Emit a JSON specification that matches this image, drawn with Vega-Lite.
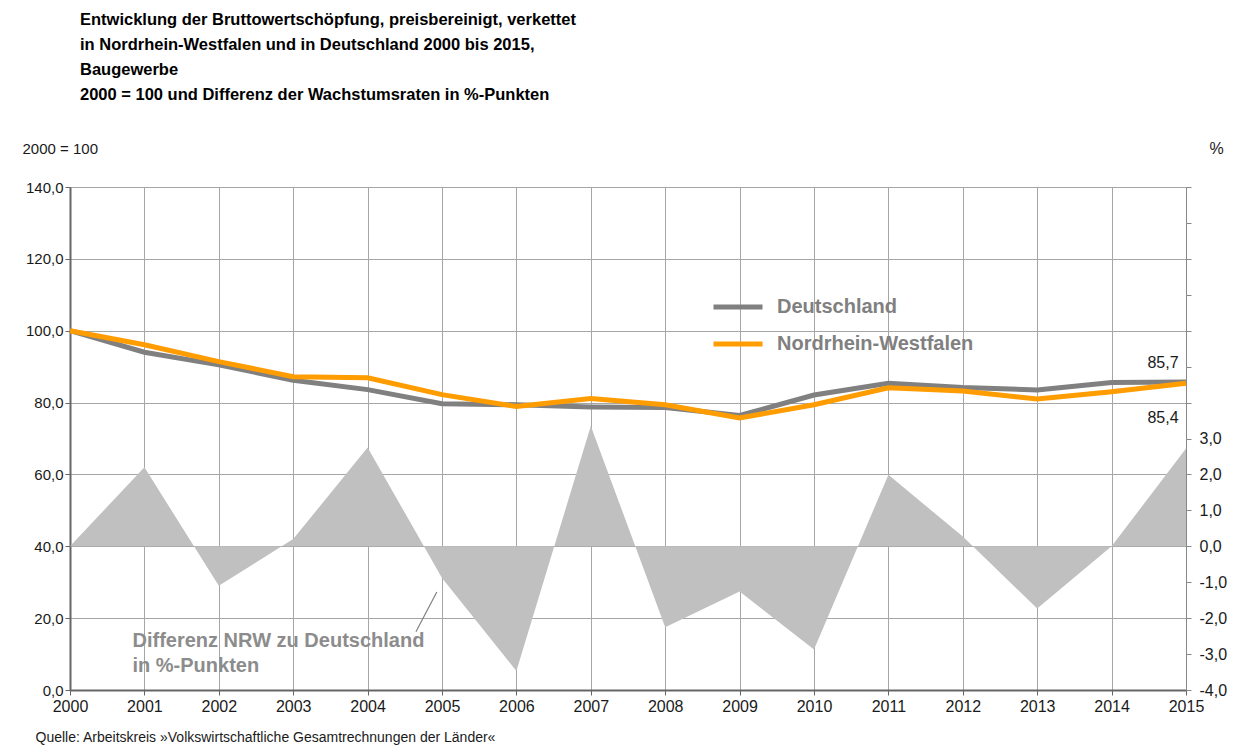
{
  "$schema": "https://vega.github.io/schema/vega-lite/v6.json",
  "width": 1116,
  "height": 503,
  "autosize": {"type": "none"},
  "padding": {"left": 70, "top": 187, "right": 51, "bottom": 57},
  "background": "white",
  "config": {"view": {"stroke": null}, "font": "Liberation Sans"},
  "title": {
    "text": ["Entwicklung der Bruttowertschöpfung,  preisbereinigt, verkettet", "in Nordrhein-Westfalen und in Deutschland 2000 bis 2015,", "Baugewerbe", "2000 = 100 und Differenz der Wachstumsraten  in %-Punkten"],
    "anchor": "start",
    "frame": "group",
    "dx": 10,
    "offset": 37,
    "font": "Liberation Sans",
    "fontSize": 16.5,
    "fontWeight": "bold",
    "lineHeight": 25,
    "color": "#000000"
  },
  "datasets": {
    "lines": [
      {"year": 2000, "region": "Deutschland", "value": 100.0},
      {"year": 2001, "region": "Deutschland", "value": 94.0},
      {"year": 2002, "region": "Deutschland", "value": 90.5},
      {"year": 2003, "region": "Deutschland", "value": 86.2},
      {"year": 2004, "region": "Deutschland", "value": 83.6},
      {"year": 2005, "region": "Deutschland", "value": 79.7},
      {"year": 2006, "region": "Deutschland", "value": 79.4},
      {"year": 2007, "region": "Deutschland", "value": 78.8},
      {"year": 2008, "region": "Deutschland", "value": 78.6},
      {"year": 2009, "region": "Deutschland", "value": 76.4},
      {"year": 2010, "region": "Deutschland", "value": 82.1},
      {"year": 2011, "region": "Deutschland", "value": 85.4},
      {"year": 2012, "region": "Deutschland", "value": 84.2},
      {"year": 2013, "region": "Deutschland", "value": 83.5},
      {"year": 2014, "region": "Deutschland", "value": 85.6},
      {"year": 2015, "region": "Deutschland", "value": 85.7},
      {"year": 2000, "region": "Nordrhein-Westfalen", "value": 100.0},
      {"year": 2001, "region": "Nordrhein-Westfalen", "value": 96.1},
      {"year": 2002, "region": "Nordrhein-Westfalen", "value": 91.4},
      {"year": 2003, "region": "Nordrhein-Westfalen", "value": 87.2},
      {"year": 2004, "region": "Nordrhein-Westfalen", "value": 86.9},
      {"year": 2005, "region": "Nordrhein-Westfalen", "value": 82.2},
      {"year": 2006, "region": "Nordrhein-Westfalen", "value": 78.9},
      {"year": 2007, "region": "Nordrhein-Westfalen", "value": 81.1},
      {"year": 2008, "region": "Nordrhein-Westfalen", "value": 79.4},
      {"year": 2009, "region": "Nordrhein-Westfalen", "value": 75.7},
      {"year": 2010, "region": "Nordrhein-Westfalen", "value": 79.4},
      {"year": 2011, "region": "Nordrhein-Westfalen", "value": 84.1},
      {"year": 2012, "region": "Nordrhein-Westfalen", "value": 83.2},
      {"year": 2013, "region": "Nordrhein-Westfalen", "value": 81.0},
      {"year": 2014, "region": "Nordrhein-Westfalen", "value": 83.0},
      {"year": 2015, "region": "Nordrhein-Westfalen", "value": 85.4}
    ],
    "diff": [
      {"year": 2000, "diff": 0.0},
      {"year": 2001, "diff": 2.2},
      {"year": 2002, "diff": -1.1},
      {"year": 2003, "diff": 0.2},
      {"year": 2004, "diff": 2.75},
      {"year": 2005, "diff": -0.88},
      {"year": 2006, "diff": -3.47},
      {"year": 2007, "diff": 3.35},
      {"year": 2008, "diff": -2.25},
      {"year": 2009, "diff": -1.26},
      {"year": 2010, "diff": -2.87},
      {"year": 2011, "diff": 1.99},
      {"year": 2012, "diff": 0.27},
      {"year": 2013, "diff": -1.73},
      {"year": 2014, "diff": 0.0},
      {"year": 2015, "diff": 2.72}
    ]
  },
  "encoding": {
    "x": {
      "field": "year",
      "type": "quantitative",
      "scale": {"domain": [2000, 2015], "nice": false, "zero": false},
      "axis": {
        "values": [2000, 2001, 2002, 2003, 2004, 2005, 2006, 2007, 2008, 2009, 2010, 2011, 2012, 2013, 2014, 2015],
        "format": "d",
        "grid": true,
        "gridColor": "#a6a6a6",
        "gridWidth": 1,
        "domainColor": "#666666",
        "domainWidth": 2,
        "tickColor": "#666666",
        "tickSize": 5,
        "labelPadding": 3,
        "labelFontSize": 16,
        "labelColor": "#1a1a1a",
        "labelFlush": false,
        "labelOverlap": false,
        "title": "Quelle: Arbeitskreis »Volkswirtschaftliche Gesamtrechnungen der Länder«",
        "titleFontSize": 14,
        "titleFontWeight": "normal",
        "titleColor": "#1a1a1a",
        "titleAnchor": "start",
        "titleAlign": "left",
        "titleBaseline": "middle",
        "titleX": -35,
        "titleY": 47
      }
    }
  },
  "layer": [
    {
      "data": {"name": "diff"},
      "mark": {"type": "area", "color": "#c0c0c0", "opacity": 1},
      "encoding": {
        "y": {
          "field": "diff",
          "type": "quantitative",
          "scale": {"domain": [-4, 10], "nice": false, "zero": false},
          "axis": {
            "orient": "right",
            "values": [-4, -3, -2, -1, 0, 1, 2, 3, 4, 5, 6, 7, 8, 9, 10],
            "labelExpr": "datum.value <= 3 ? (datum.value < 0 ? '-' : '') + replace(format(abs(datum.value), '.1f'), '.', ',') : ''",
            "grid": false,
            "domainColor": "#888888",
            "tickColor": "#888888",
            "tickSize": 5,
            "labelPadding": 8,
            "labelFontSize": 16,
            "labelColor": "#1a1a1a",
            "labelFlush": false,
            "labelOverlap": false,
            "title": "%",
            "titleAngle": 0,
            "titleFontSize": 16,
            "titleFontWeight": "normal",
            "titleColor": "#1a1a1a",
            "titleAlign": "left",
            "titleBaseline": "middle",
            "titleX": 23,
            "titleY": -39
          }
        },
        "y2": {"datum": 0}
      }
    },
    {
      "layer": [
        {
          "data": {"name": "lines"},
          "mark": {"type": "line", "strokeWidth": 5, "strokeCap": "butt"},
          "encoding": {
            "y": {
              "field": "value",
              "type": "quantitative",
              "scale": {"domain": [0, 140], "nice": false},
              "axis": {
                "orient": "left",
                "values": [0, 20, 40, 60, 80, 100, 120, 140],
                "labelExpr": "replace(format(datum.value, '.1f'), '.', ',')",
                "grid": true,
                "gridColor": "#a6a6a6",
                "gridWidth": 1,
                "domainColor": "#666666",
                "domainWidth": 2,
                "tickColor": "#666666",
                "tickSize": 5,
                "labelPadding": 2,
                "labelFontSize": 15,
                "labelColor": "#1a1a1a",
                "labelFlush": false,
                "labelOverlap": false,
                "title": "2000 = 100",
                "titleAngle": 0,
                "titleFontSize": 15,
                "titleFontWeight": "normal",
                "titleColor": "#1a1a1a",
                "titleAlign": "left",
                "titleBaseline": "middle",
                "titleX": -48,
                "titleY": -39
              }
            },
            "color": {
              "field": "region",
              "type": "nominal",
              "scale": {"domain": ["Deutschland", "Nordrhein-Westfalen"], "range": ["#808080", "#ff9c00"]},
              "legend": {
                "title": null,
                "orient": "none",
                "legendX": 641,
                "legendY": 93,
                "symbolType": "stroke",
                "symbolStrokeWidth": 5,
                "symbolSize": 2401,
                "rowPadding": -12,
                "labelOffset": 12,
                "labelFontSize": 20,
                "labelFontWeight": "bold",
                "labelColor": "#808080",
                "labelLimit": 0
              }
            },
            "order": {"field": "region", "sort": "ascending"}
          }
        },
        {
          "data": {"values": [{"year": 2000.84, "value": 13.5, "label": ["Differenz NRW zu Deutschland", "in %-Punkten"]}]},
          "mark": {"type": "text", "align": "left", "baseline": "middle", "fontSize": 20, "fontWeight": "bold", "color": "#8c8c8c", "lineHeight": 25},
          "encoding": {"y": {"field": "value", "type": "quantitative"}, "text": {"field": "label"}}
        },
        {
          "data": {"values": [{"year": 2004.65, "value": 16.2, "year2": 2004.93, "value2": 27.3}]},
          "mark": {"type": "rule", "color": "#808080", "strokeWidth": 1.2},
          "encoding": {
            "y": {"field": "value", "type": "quantitative"},
            "x2": {"field": "year2"},
            "y2": {"field": "value2"}
          }
        },
        {
          "data": {"values": [{"year": 2015, "value": 85.7, "label": "85,7"}]},
          "mark": {"type": "text", "align": "center", "baseline": "middle", "fontSize": 16, "color": "#1a1a1a", "dx": -23, "dy": -19},
          "encoding": {"y": {"field": "value", "type": "quantitative"}, "text": {"field": "label"}}
        },
        {
          "data": {"values": [{"year": 2015, "value": 85.4, "label": "85,4"}]},
          "mark": {"type": "text", "align": "center", "baseline": "middle", "fontSize": 16, "color": "#1a1a1a", "dx": -23, "dy": 35},
          "encoding": {"y": {"field": "value", "type": "quantitative"}, "text": {"field": "label"}}
        }
      ]
    }
  ],
  "resolve": {"scale": {"y": "independent"}}
}
